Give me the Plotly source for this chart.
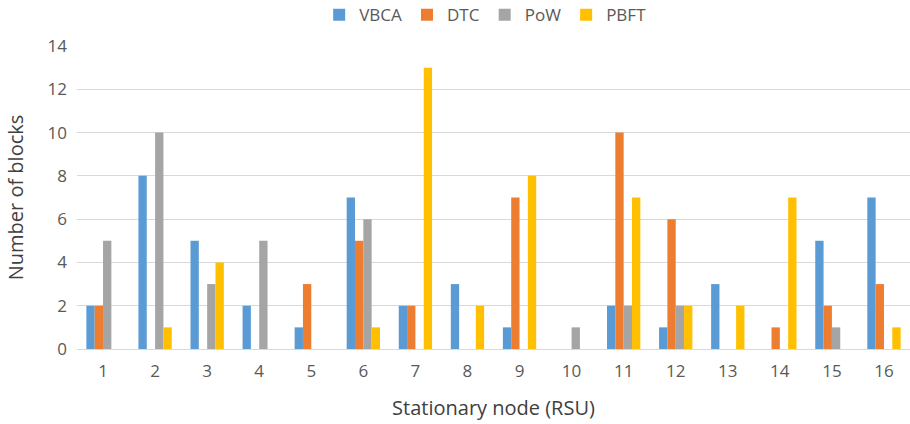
import plotly.graph_objects as go

# Blocks produced per stationary node (RSU)
rsu_nodes = [str(n) for n in range(1, 17)]
vbca_blocks = [2, 8, 5, 2, 1, 7, 2, 3, 1, 0, 2, 1, 3, 0, 5, 7]
dtc_blocks = [2, 0, 0, 0, 3, 5, 2, 0, 7, 0, 10, 6, 0, 1, 2, 3]
pow_blocks = [5, 10, 3, 5, 0, 6, 0, 0, 0, 1, 2, 2, 0, 0, 1, 0]
pbft_blocks = [0, 1, 4, 0, 0, 1, 13, 2, 8, 0, 7, 2, 2, 7, 0, 1]
y_ticks = [0, 2, 4, 6, 8, 10, 12, 14]

series = [
    ("VBCA", vbca_blocks, "#5B9BD5"),
    ("DTC", dtc_blocks, "#ED7D31"),
    ("PoW", pow_blocks, "#A5A5A5"),
    ("PBFT", pbft_blocks, "#FFC000"),
]

font_family = "Open Sans, Liberation Sans, sans-serif"
text_color = "#595959"

fig = go.Figure()
for name, values, color in series:
    fig.add_trace(
        go.Bar(
            x=rsu_nodes,
            y=values,
            name=name,
            marker={"color": color, "line": {"width": 0}},
        )
    )

fig.update_layout(
    width=910,
    height=424,
    barmode="group",
    bargap=0.36,
    bargroupgap=0,
    plot_bgcolor="white",
    paper_bgcolor="white",
    font={"family": font_family, "color": text_color, "size": 17},
    margin={"l": 77, "r": 0, "t": 46, "b": 75, "autoexpand": False},
    legend={
        "orientation": "h",
        "x": 0.49,
        "xanchor": "center",
        "y": 1.102,
        "yanchor": "middle",
        "font": {"size": 17, "color": text_color},
        "itemwidth": 30,
        "tracegroupgap": 0,
    },
    xaxis={
        "title": {"text": "Stationary node (RSU)", "font": {"size": 20, "color": "#404040"}, "standoff": 19},
        "showgrid": False,
        "showline": True,
        "linecolor": "#D9D9D9",
        "linewidth": 1,
        "ticks": "",
        "ticklabelstandoff": 7,
        "tickfont": {"size": 17},
    },
    yaxis={
        "title": {"text": "Number of blocks", "font": {"size": 20, "color": "#404040"}, "standoff": 18},
        "range": [0, 14],
        "tickvals": y_ticks,
        "showgrid": True,
        "gridcolor": "#D9D9D9",
        "gridwidth": 1,
        "zeroline": False,
        "showline": False,
        "ticks": "",
        "ticklabelstandoff": 9,
        "tickfont": {"size": 17},
    },
)

# drop the browser's default body margin so the figure sits at the window corner
fig.write_html(
    "out.html",
    config={"displayModeBar": False},
    post_script="document.body.style.margin = '0';",
)
